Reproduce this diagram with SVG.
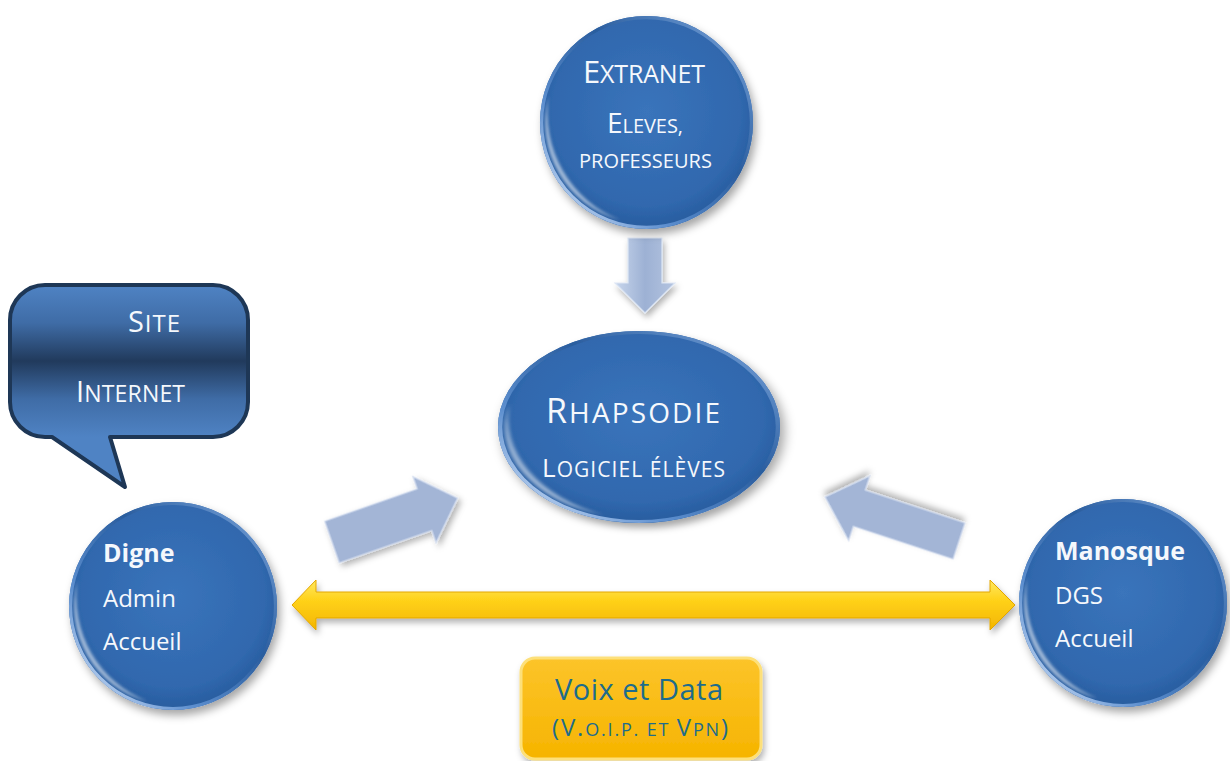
<svg xmlns="http://www.w3.org/2000/svg" xmlns:xlink="http://www.w3.org/1999/xlink" width="1230" height="761" viewBox="0 0 1230 761">
<style>
  .w { fill: #f5f8fc; font-family: "Open Sans", "Liberation Sans", sans-serif; }
  .b { font-weight: bold; }
  .teal { fill: #1d6c8c; font-family: "Open Sans", "Liberation Sans", sans-serif; }
  .grey { fill: #a3b5d6; stroke: #d3ddef; stroke-width: 1.2; }
</style>
<defs>
  <filter id="sh" x="-20%" y="-20%" width="150%" height="150%">
    <feDropShadow dx="3" dy="5" stdDeviation="4" flood-color="#000" flood-opacity="0.35"/>
  </filter>
  <filter id="shs" x="-20%" y="-40%" width="150%" height="200%">
    <feDropShadow dx="2" dy="4" stdDeviation="3" flood-color="#000" flood-opacity="0.3"/>
  </filter>
  <filter id="blur2"><feGaussianBlur stdDeviation="1.5"/></filter>
  <radialGradient id="ballFill" cx="50%" cy="45%" r="55%">
    <stop offset="0" stop-color="#3a74bb"/>
    <stop offset="0.8" stop-color="#3068ae"/>
    <stop offset="1" stop-color="#285c9e"/>
  </radialGradient>
  <linearGradient id="rimGrad" x1="0" y1="1" x2="1" y2="0">
    <stop offset="0" stop-color="#e6f0ff"/>
    <stop offset="0.3" stop-color="#5d8fcf"/>
    <stop offset="0.6" stop-color="#2a5d9e"/>
    <stop offset="1" stop-color="#7fa9e0"/>
  </linearGradient>
  <g id="ball">
    <circle r="100" fill="url(#ballFill)"/>
    <circle r="98.5" fill="none" stroke="url(#rimGrad)" stroke-width="3"/>
    <path d="M -24.6,91.8 A 95 95 0 0 1 -91.8,-24.6 A 108 108 0 0 0 -24.6,91.8 Z" fill="#ffffff" opacity="0.55" filter="url(#blur2)"/>
  </g>
  <linearGradient id="bubbleGrad" gradientUnits="userSpaceOnUse" x1="0" y1="285" x2="0" y2="437">
    <stop offset="0" stop-color="#4f83c4"/>
    <stop offset="0.25" stop-color="#3f6ca6"/>
    <stop offset="0.5" stop-color="#213a5c"/>
    <stop offset="0.75" stop-color="#3f6ca6"/>
    <stop offset="1" stop-color="#4f83c4"/>
  </linearGradient>
  <linearGradient id="greyDown" x1="0" y1="0" x2="1" y2="0">
    <stop offset="0" stop-color="#c8d6ec"/>
    <stop offset="0.5" stop-color="#9db1d4"/>
    <stop offset="1" stop-color="#b4c4e0"/>
  </linearGradient>
  <linearGradient id="yellowGrad" x1="0" y1="0" x2="0" y2="1">
    <stop offset="0" stop-color="#ffe860"/>
    <stop offset="0.4" stop-color="#ffd21a"/>
    <stop offset="1" stop-color="#f3b500"/>
  </linearGradient>
  <linearGradient id="boxGrad" x1="0" y1="0" x2="0" y2="1">
    <stop offset="0" stop-color="#fcc42a"/>
    <stop offset="1" stop-color="#f6b400"/>
  </linearGradient>
</defs>

<rect width="1230" height="761" fill="#ffffff"/>

<g id="connectors">
  <polygon id="arrow-extranet-rhapsodie" points="628,238 662,238 662,283 675,283 645,313 615,283 628,283" fill="url(#greyDown)" stroke="#dde6f4" stroke-width="1.2" filter="url(#shs)"/>
  <polygon id="arrow-digne-rhapsodie" class="grey" transform="translate(332,542) rotate(-19.25)" points="0,-22 98,-22 98,-35 133,0 98,35 98,22 0,22" filter="url(#shs)"/>
  <polygon id="arrow-manosque-rhapsodie" class="grey" transform="translate(959,541) rotate(-161.8)" points="0,-19 105,-19 105,-34 141,0 105,34 105,19 0,19" filter="url(#shs)"/>
  <polygon id="arrow-digne-manosque" points="292,605 316,580 316,592 990,592 990,580 1015,605 990,630 990,618 316,618 316,630" fill="url(#yellowGrad)" stroke="#e3a600" stroke-width="1" filter="url(#shs)"/>
</g>

<g id="extranet">
  <use xlink:href="#ball" href="#ball" transform="translate(646.5,122.5) scale(1.065)" filter="url(#sh)"/>
  <text class="w" x="644" y="83" text-anchor="middle" textLength="122" lengthAdjust="spacing"><tspan font-size="31">E</tspan><tspan font-size="25">XTRANET</tspan></text>
  <text class="w" x="645" y="133" text-anchor="middle" textLength="76" lengthAdjust="spacing"><tspan font-size="28">E</tspan><tspan font-size="20">LEVES,</tspan></text>
  <text class="w" x="645.5" y="168" text-anchor="middle" font-size="20" textLength="133" lengthAdjust="spacing">PROFESSEURS</text>
</g>

<g id="rhapsodie">
  <use xlink:href="#ball" href="#ball" transform="translate(639,427) scale(1.41,0.96)" filter="url(#sh)"/>
  <text class="w" x="633" y="423" text-anchor="middle" textLength="174" lengthAdjust="spacing"><tspan font-size="34">R</tspan><tspan font-size="28">HAPSODIE</tspan></text>
  <text class="w" x="633.5" y="477" text-anchor="middle" textLength="183" lengthAdjust="spacing"><tspan font-size="26">L</tspan><tspan font-size="21">OGICIEL ÉLÈVES</tspan></text>
</g>

<g id="site-internet">
  <path d="M 45,285 H 213 A 35 35 0 0 1 248,320 V 402 A 35 35 0 0 1 213,437 H 110 L 125,487 L 52,437 H 45 A 35 35 0 0 1 10,402 V 320 A 35 35 0 0 1 45,285 Z" fill="url(#bubbleGrad)" stroke="#1e3756" stroke-width="4" stroke-linejoin="round"/>
  <text class="w" x="128" y="332" textLength="52" lengthAdjust="spacing"><tspan font-size="29">S</tspan><tspan font-size="24">ITE</tspan></text>
  <text class="w" x="76" y="402" textLength="109" lengthAdjust="spacing"><tspan font-size="29">I</tspan><tspan font-size="23">NTERNET</tspan></text>
</g>

<g id="digne">
  <use xlink:href="#ball" href="#ball" transform="translate(173,606) scale(1.04)" filter="url(#sh)"/>
  <text class="w b" x="103" y="562" font-size="25">Digne</text>
  <text class="w" x="103" y="607" font-size="24">Admin</text>
  <text class="w" x="103" y="650" font-size="24">Accueil</text>
</g>

<g id="manosque">
  <use xlink:href="#ball" href="#ball" transform="translate(1123,603) scale(1.04)" filter="url(#sh)"/>
  <text class="w b" x="1055" y="560" font-size="25">Manosque</text>
  <text class="w" x="1055" y="604" font-size="24">DGS</text>
  <text class="w" x="1055" y="647" font-size="24">Accueil</text>
</g>

<g id="voix-data">
  <rect x="521" y="658" width="240" height="101" rx="14" fill="url(#boxGrad)" stroke="#fde07a" stroke-width="3" filter="url(#shs)"/>
  <text class="teal" x="639" y="700" text-anchor="middle" font-size="29" textLength="168" lengthAdjust="spacing">Voix et Data</text>
  <text class="teal" x="640" y="736" text-anchor="middle" textLength="176" lengthAdjust="spacing"><tspan font-size="24">(V.</tspan><tspan font-size="18">O.I.P. ET </tspan><tspan font-size="24">V</tspan><tspan font-size="18">PN</tspan><tspan font-size="24">)</tspan></text>
</g>
</svg>
